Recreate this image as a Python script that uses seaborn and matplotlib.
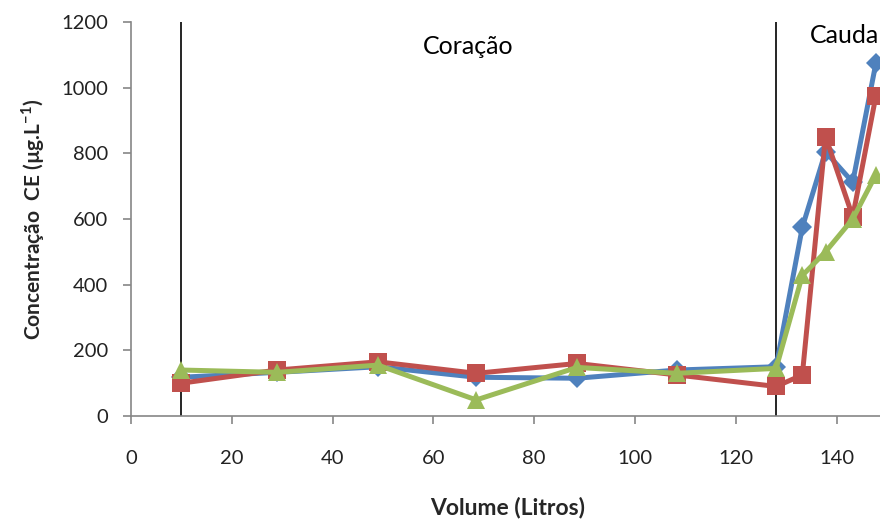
import matplotlib
matplotlib.use("Agg")
import matplotlib.pyplot as plt
import seaborn as sns
import pandas as pd

# Data
volume = [10, 29, 49, 68.5, 88.5, 108.3, 128, 133.2, 137.8, 143.2, 147.8]
serie_azul = [118, 133, 150, 118, 115, 140, 150, 575, 805, 712, 1075]
serie_vermelha = [100, 140, 165, 130, 160, 125, 90, 125, 851, 607, 975]
serie_verde = [140, 133, 155, 49, 148, 130, 145, 428, 500, 600, 735]

separadores = [10, 128]
rotulos_regioes = ["Coração", "Cauda"]
y_ticks = [0, 200, 400, 600, 800, 1000, 1200]
x_ticks = [0, 20, 40, 60, 80, 100, 120, 140]

sns.set_theme(style="white")
plt.rcParams['font.family'] = ['Lato', 'DejaVu Sans']

fig = plt.figure(figsize=(8.8, 5.21), dpi=100)
ax = fig.add_axes([131/880, 105/521, 806.4/880, 394/521])

series = [
    (serie_azul, "#4F81BD", "D", 10.5),
    (serie_vermelha, "#C0504D", "s", 13),
    (serie_verde, "#9BBB59", "^", 13),
]
for vals, col, mk, ms in series:
    df = pd.DataFrame({"Volume": volume, "CE": vals})
    sns.lineplot(data=df, x="Volume", y="CE", ax=ax, color=col, marker=mk,
                 markersize=ms, markeredgewidth=0, linewidth=3.6, zorder=3)

for xv in separadores:
    ax.axvline(xv, color="black", linewidth=1.2, zorder=2)

ax.text(66.9, 1124, rotulos_regioes[0], ha="center", va="center", fontsize=18, color="black")
ax.text(134.7, 1160, rotulos_regioes[1], ha="left", va="center", fontsize=18, color="black")

ax.set_xlim(0, 160)
ax.set_ylim(0, 1200)
ax.set_xticks(x_ticks)
ax.set_yticks(y_ticks)

for s in ["top", "right"]:
    ax.spines[s].set_visible(False)
for s in ["left", "bottom"]:
    ax.spines[s].set_color("#868686")
    ax.spines[s].set_linewidth(1.2)

ax.tick_params(axis="both", which="major", direction="out", length=5.5, width=1.2,
               color="#868686", labelsize=14.5, labelcolor="#222222", left=True, bottom=True)
ax.tick_params(axis="x", pad=19)
ax.tick_params(axis="y", pad=11)

ax.set_xlabel("Volume (Litros)", fontsize=16.5, fontweight="bold")
ax.xaxis.set_label_coords((508 - 131) / 806.4, -(507 - 416) / 394)
ax.xaxis.label.set_va("center")
ax.set_ylabel("Concentração  CE (µg.L$^{\\mathregular{-1}}$)", fontsize=15, fontweight="bold", labelpad=10)
ax.grid(False)

fig.savefig("out.png", dpi=100)
